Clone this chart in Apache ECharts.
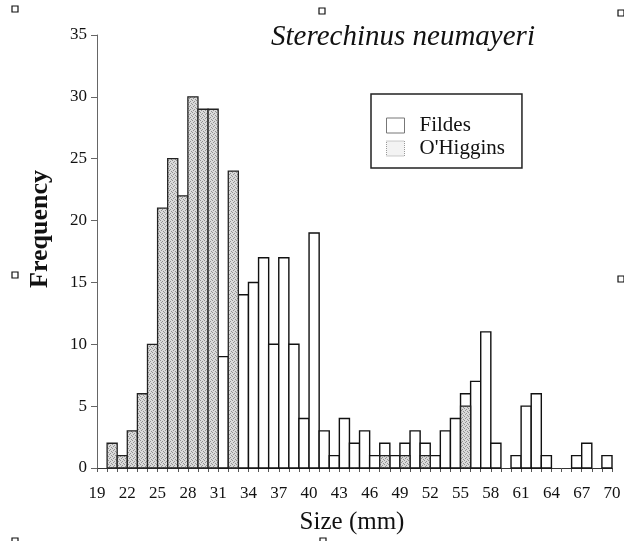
<!DOCTYPE html>
<html>
<head>
<meta charset="utf-8">
<script src="https://cdn.jsdelivr.net/npm/echarts@6/dist/echarts.min.js"></script>
<style>
  html, body { margin: 0; padding: 0; background: #fff; }
  #chart { width: 624px; height: 541px; }
</style>
</head>
<body>
<div id="chart"></div>
<script>
// Size classes (mm): each bar covers [start, start + 1)
const binStart = [19, 20, 21, 22, 23, 24, 25, 26, 27, 28, 29, 30, 31, 32, 33, 34, 35, 36, 37, 38,
                  39, 40, 41, 42, 43, 44, 45, 46, 47, 48, 49, 50, 51, 52, 53, 54, 55, 56, 57, 58,
                  59, 60, 61, 62, 63, 64, 65, 66, 67, 68, 69];

// Frequencies per size class
const fildes = [0, 0, 0, 0, 0, 0, 0, 0, 0, 0, 0, 0, 9, 0, 14, 15, 17, 10, 17, 10,
                4, 19, 3, 1, 4, 2, 3, 1, 2, 1, 2, 3, 2, 1, 3, 4, 6, 7, 11, 2,
                0, 1, 5, 6, 1, 0, 0, 1, 2, 0, 1];
const ohiggins = [0, 2, 1, 3, 6, 10, 21, 25, 22, 30, 29, 29, 0, 24, 0, 0, 0, 0, 0, 0,
                  0, 0, 0, 0, 0, 0, 0, 0, 1, 0, 1, 0, 1, 0, 0, 0, 5, 0, 0, 0,
                  0, 0, 0, 0, 0, 0, 0, 0, 0, 0, 0];

// Labelled ticks on the size axis
const xTickLabels = [19, 22, 25, 28, 31, 34, 37, 40, 43, 46, 49, 52, 55, 58, 61, 64, 67, 70];

const SERIF = '"Liberation Serif", "DejaVu Serif", serif';

// Stippled grey fill for the O'Higgins bars
function stipple() {
  const c = document.createElement('canvas');
  c.width = 4; c.height = 4;
  const g = c.getContext('2d');
  g.fillStyle = '#dadada';
  g.fillRect(0, 0, 4, 4);
  g.fillStyle = '#929292';
  [[0, 0], [2, 1], [1, 2], [3, 3]].forEach(p => g.fillRect(p[0], p[1], 1, 1));
  return { image: c, repeat: 'repeat' };
}

function histBar(style) {
  return function (params, api) {
    const s = api.value(0), v = api.value(1);
    if (!v) return null;
    const p0 = api.coord([s, 0]);
    const p1 = api.coord([s + 1, v]);
    return {
      type: 'rect',
      shape: { x: p0[0], y: p1[1], width: p1[0] - p0[0], height: p0[1] - p1[1] },
      style: style
    };
  };
}

const chart = echarts.init(document.getElementById('chart'), null, { renderer: 'canvas' });

const handle = (x, y) => ({
  type: 'rect', shape: { x: x, y: y, width: 6, height: 6 },
  style: { fill: '#fff', stroke: '#111', lineWidth: 1.2 }, silent: true
});

chart.setOption({
  animation: false,
  backgroundColor: '#fff',
  grid: { left: 97, right: 12, top: 35, bottom: 73 },
  xAxis: {
    type: 'value', min: 19, max: 70, interval: 1,
    axisLine: { show: true, lineStyle: { color: '#333', width: 1 } },
    axisTick: { show: true, length: 4, lineStyle: { color: '#555' } },
    splitLine: { show: false },
    axisLabel: {
      margin: 17, color: '#111', fontFamily: SERIF, fontSize: 17,
      formatter: v => (xTickLabels.indexOf(v) >= 0 ? String(v) : '')
    }
  },
  yAxis: {
    type: 'value', min: 0, max: 35, interval: 5,
    axisLine: { show: true, lineStyle: { color: '#666', width: 1 } },
    axisTick: { show: true, length: 6, lineStyle: { color: '#666' } },
    splitLine: { show: false },
    axisLabel: { margin: 10, color: '#111', fontFamily: SERIF, fontSize: 17 }
  },
  legend: {
    left: 371, top: 94, orient: 'vertical',
    padding: [21, 17, 9, 15],
    borderColor: '#222', borderWidth: 1.5,
    itemWidth: 18, itemHeight: 15, itemGap: 2,
    selectedMode: false,
    textStyle: { fontFamily: SERIF, fontSize: 21, color: '#111', padding: [0, 0, 0, 10] },
    data: [
      { name: 'Fildes', icon: 'rect',
        itemStyle: { color: '#fff', borderColor: '#777', borderWidth: 1 } },
      { name: "O'Higgins", icon: 'rect',
        itemStyle: { color: '#f3f3f3', borderColor: '#999', borderWidth: 1, borderType: 'dotted' } }
    ]
  },
  series: [
    {
      name: 'Fildes', type: 'custom',
      itemStyle: { color: '#fff' },
      renderItem: histBar({ fill: '#fff', stroke: '#111', lineWidth: 1.4 }),
      data: binStart.map((s, i) => [s, fildes[i]]),
      encode: { x: 0, y: 1 }
    },
    {
      name: "O'Higgins", type: 'custom',
      itemStyle: { color: '#ddd' },
      renderItem: histBar({ fill: stipple(), stroke: '#222', lineWidth: 1.3 }),
      data: binStart.map((s, i) => [s, ohiggins[i]]),
      encode: { x: 0, y: 1 }
    }
  ],
  graphic: [
    { type: 'text', x: 403, y: 37, silent: true,
      style: { text: 'Sterechinus neumayeri', textAlign: 'center', textVerticalAlign: 'middle',
               font: 'italic 29px ' + SERIF, fill: '#111' } },
    { type: 'text', x: 40, y: 229, rotation: Math.PI / 2, silent: true,
      style: { text: 'Frequency', textAlign: 'center', textVerticalAlign: 'middle',
               font: 'bold 26px ' + SERIF, fill: '#111' } },
    { type: 'text', x: 352, y: 522, silent: true,
      style: { text: 'Size (mm)', textAlign: 'center', textVerticalAlign: 'middle',
               font: '25px ' + SERIF, fill: '#111' } },
    handle(12, 6), handle(319, 8), handle(618, 10),
    handle(12, 272), handle(618, 276),
    handle(12, 538), handle(320, 538)
  ]
});
</script>
</body>
</html>
